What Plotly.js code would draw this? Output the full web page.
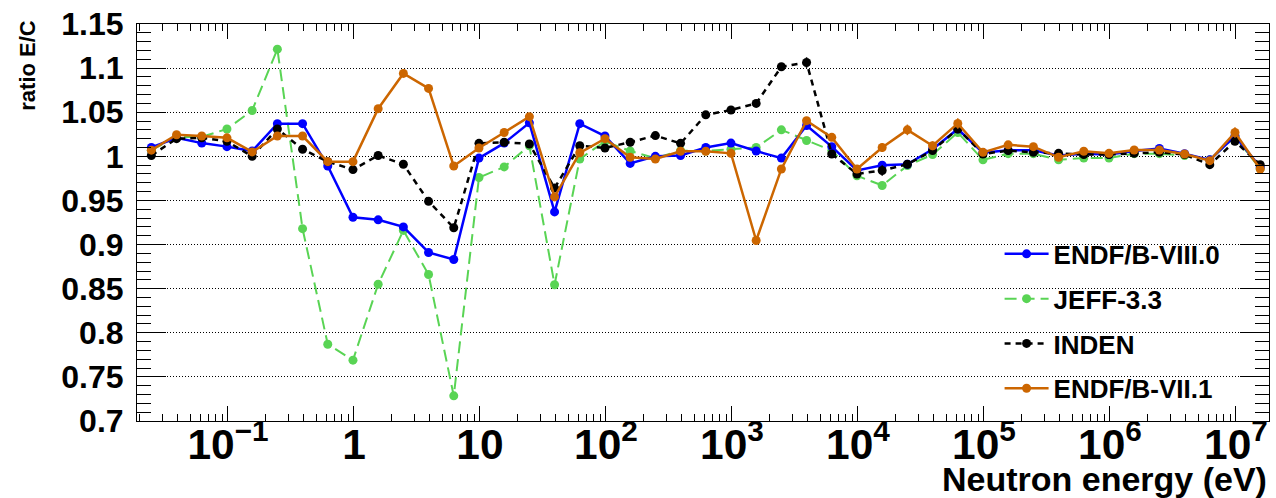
<!DOCTYPE html>
<html>
<head>
<meta charset="utf-8">
<script src="https://cdn.plot.ly/plotly-3.0.1.min.js"></script>
<style>html,body{margin:0;padding:0;background:#fff;}#chart{width:1276px;height:498px;}</style>
</head>
<body>
<div id="chart"></div>
<script>
// Neutron energies (eV) of the points
const energy = [0.02466, 0.03908, 0.06194, 0.09817, 0.1556, 0.2466, 0.3908, 0.6194, 0.9817, 1.556,
  2.466, 3.908, 6.194, 9.817, 15.56, 24.66, 39.08, 61.94, 98.17, 155.6,
  246.6, 390.8, 619.4, 981.7, 1556, 2466, 3908, 6194, 9817, 15560,
  24660, 39080, 61940, 98170, 155600, 246600, 390800, 619400, 981700, 1556000,
  2466000, 3908000, 6194000, 9817000, 15560000];

const endf80 = [1.010, 1.021, 1.015, 1.011, 1.006, 1.037, 1.037, 0.989, 0.931, 0.928,
  0.920, 0.891, 0.883, 0.998, 1.015, 1.038, 0.937, 1.037, 1.023, 0.992,
  1.000, 1.001, 1.010, 1.015, 1.006, 0.998, 1.035, 1.011, 0.984, 0.990,
  0.991, 1.008, 1.031, 1.004, 1.007, 1.007, 1.001, 1.003, 1.002, 1.006,
  1.009, 1.003, 0.996, 1.023, 0.988];

const jeff33 = [1.007, 1.022, 1.022, 1.031, 1.052, 1.1215, 0.918, 0.787, 0.769, 0.855,
  0.916, 0.866, 0.7285, 0.976, 0.988, 1.012, 0.8545, 0.997, 1.017, 1.006,
  0.998, 1.0065, 1.006, 1.008, 1.010, 1.030, 1.018, 1.0065, 0.978, 0.967,
  0.9895, 1.002, 1.027, 0.996, 1.003, 1.003, 0.996, 0.998, 0.998, 1.003,
  1.003, 1.001, 0.996, 1.022, 0.986];

const inden = [1.001, 1.020, 1.021, 1.017, 1.000, 1.031, 1.008, 0.994, 0.985, 1.001,
  0.991, 0.949, 0.919, 1.0147, 1.016, 1.014, 0.964, 1.012, 1.0095, 1.016,
  1.0235, 1.0147, 1.047, 1.0525, 1.060, 1.1015, 1.1063, 1.0027, 0.980, 0.984,
  0.991, 1.0065, 1.031, 1.0027, 1.0065, 1.0045, 1.0034, 1.002, 1.002, 1.0034,
  1.0045, 1.002, 0.9906, 1.017, 0.9906];

const endf71 = [1.007, 1.0245, 1.023, 1.021, 1.005, 1.023, 1.023, 0.994, 0.994, 1.054,
  1.094, 1.077, 0.989, 1.0095, 1.027, 1.045, 0.954, 1.004, 1.020, 0.999,
  0.997, 1.0057, 1.0057, 1.0034, 0.9046, 0.9857, 1.0404, 1.0215, 0.9857, 1.010,
  1.030, 1.012, 1.0373, 1.0045, 1.013, 1.011, 0.9989, 1.0057, 1.0034, 1.0072,
  1.0072, 1.0027, 0.9951, 1.027, 0.9857];

const indenErr = [0.002, 0.002, 0.002, 0.002, 0.002, 0.002, 0.002, 0.002, 0.002, 0.002,
  0.002, 0.002, 0.002, 0.002, 0.002, 0.002, 0.002, 0.002, 0.002, 0.002,
  0.002, 0.002, 0.002, 0.002, 0.002, 0.003, 0.006, 0.002, 0.002, 0.006,
  0.003, 0.003, 0.003, 0.002, 0.002, 0.002, 0.002, 0.002, 0.002, 0.002,
  0.002, 0.002, 0.003, 0.004, 0.003];

const endf71Err = [0.002, 0.002, 0.002, 0.002, 0.002, 0.002, 0.002, 0.002, 0.002, 0.002,
  0.002, 0.002, 0.002, 0.002, 0.002, 0.002, 0.002, 0.002, 0.002, 0.002,
  0.002, 0.002, 0.002, 0.002, 0.002, 0.002, 0.004, 0.002, 0.002, 0.005,
  0.006, 0.005, 0.006, 0.003, 0.004, 0.002, 0.002, 0.002, 0.002, 0.002,
  0.002, 0.002, 0.002, 0.006, 0.003];

const seriesNames = ['ENDF/B-VIII.0', 'JEFF-3.3', 'INDEN', 'ENDF/B-VII.1'];
const yTitle = 'ratio E/C';
const xTitle = 'Neutron energy (eV)';

const FONT = 'Liberation Sans, Arial, Helvetica, sans-serif';
const BLUE = '#0000ff', GREEN = 'rgb(89,212,84)', BLACK = '#000000', ORANGE = '#cc6600';

function trace(y, name, color, dash, width, rank, err) {
  const t = {
    x: energy, y: y, name: name, type: 'scatter', mode: 'lines+markers',
    line: {color: color, width: width, dash: dash},
    marker: {color: color, size: 9, symbol: 'circle', line: {width: 0}},
    legendrank: rank, legendgroup: name
  };
  if (err) t.error_y = {type: 'data', array: err, visible: true, color: color, thickness: 1.5, width: 0};
  return t;
}

const data = [
  trace(jeff33, seriesNames[1], GREEN, '12px,6px', 2, 2),
  trace(endf80, seriesNames[0], BLUE, 'solid', 2.5, 1),
  trace(inden, seriesNames[2], BLACK, '6px,5px', 2.5, 3, indenErr),
  trace(endf71, seriesNames[3], ORANGE, 'solid', 2.5, 4, endf71Err)
];

const layout = {
  width: 1276, height: 498,
  margin: {l: 137, r: 7, t: 24, b: 77, pad: 0},
  paper_bgcolor: '#ffffff', plot_bgcolor: '#ffffff',
  font: {family: FONT, color: '#000'},
  showlegend: true,
  legend: {
    x: 0.762, y: 0.48, xanchor: 'left', yanchor: 'top',
    bgcolor: 'rgba(0,0,0,0)', borderwidth: 0,
    font: {family: FONT, size: 26, weight: 'bold', color: '#000'},
    tracegroupgap: 8, itemwidth: 44
  },
  xaxis: {
    type: 'log', range: [-1.722, 7.262], dtick: 1, exponentformat: 'power',
    showline: true, linecolor: '#000', linewidth: 1, mirror: 'ticks',
    ticks: 'inside', ticklen: 15, tickwidth: 1, tickcolor: '#000',
    minor: {dtick: 'D1', ticks: 'inside', ticklen: 7, tickwidth: 1, tickcolor: '#000', showgrid: false},
    showgrid: false, zeroline: false,
    tickfont: {family: FONT, size: 34, weight: 'bold', color: '#000'},
    ticklabelstandoff: -12
  },
  yaxis: {
    range: [0.7, 1.15], dtick: 0.05, tick0: 0.7,
    showline: true, linecolor: '#000', linewidth: 1, mirror: 'ticks',
    ticks: 'inside', ticklen: 29, tickwidth: 1, tickcolor: '#000',
    minor: {dtick: 0.01, ticks: 'inside', ticklen: 14, tickwidth: 1, tickcolor: '#000', showgrid: false},
    showgrid: true, gridcolor: '#000', gridwidth: 1, griddash: '1px,2px',
    zeroline: false,
    tickfont: {family: FONT, size: 32, weight: 'bold', color: '#000'},
    ticklabelstandoff: 6
  },
  annotations: [
    {text: yTitle, xref: 'paper', yref: 'paper', x: -0.097, y: 1.015, xanchor: 'center', yanchor: 'top',
     textangle: -90, showarrow: false, font: {family: FONT, size: 22, weight: 'bold', color: '#000'}},
    {text: xTitle, xref: 'paper', yref: 'paper', x: 1.0, y: -0.147, xanchor: 'right', yanchor: 'middle',
     showarrow: false, font: {family: FONT, size: 34, weight: 'bold', color: '#000'}}
  ]
};

Plotly.newPlot('chart', data, layout, {staticPlot: true, displayModeBar: false});
</script>
</body>
</html>
